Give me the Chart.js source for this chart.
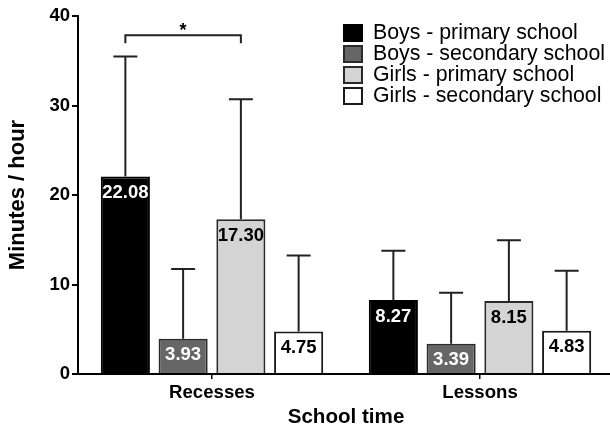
<!DOCTYPE html>
<html><head><meta charset="utf-8">
<script src="https://cdn.jsdelivr.net/npm/chart.js@4.4.0/dist/chart.umd.min.js"></script>
<style>
html,body{margin:0;padding:0;background:#fff;overflow:hidden;}
#wrap{position:relative;width:614px;height:429px;}
#legend{position:absolute;left:343px;top:22px;font-family:'Liberation Sans',Arial,sans-serif;font-size:21.3px;color:#000;}
.row{display:flex;align-items:center;height:21.1px;line-height:21px;white-space:nowrap;}
.box{width:20px;height:18px;box-sizing:border-box;border:2px solid #222;margin-right:10px;flex:none;}
</style></head><body>
<div id="wrap"><canvas id="c" width="614" height="429"></canvas><div id="legend"></div></div>
<script>
const categories = ['Recesses', 'Lessons'];
const seriesLabels = ['Boys - primary school', 'Boys - secondary school', 'Girls - primary school', 'Girls - secondary school'];
const boysPrimary = [22.08, 8.27];
const boysSecondary = [3.93, 3.39];
const girlsPrimary = [17.30, 8.15];
const girlsSecondary = [4.75, 4.83];
const boysPrimarySD = [13.4, 5.5];
const boysSecondarySD = [7.8, 5.7];
const girlsPrimarySD = [13.4, 6.8];
const girlsSecondarySD = [8.5, 6.7];
const yTicks = [0, 10, 20, 30, 40];
const significance = { category: 0, fromSeries: 0, toSeries: 2, value: 37.85, label: '*' };

const seriesValues = [boysPrimary, boysSecondary, girlsPrimary, girlsSecondary];
const seriesErrors = [boysPrimarySD, boysSecondarySD, girlsPrimarySD, girlsSecondarySD];
const fills = ['#000000', '#666666', '#d4d4d4', '#ffffff'];
const borders = ['#000000', '#2a2a2a', '#2a2a2a', '#1a1a1a'];
const labelColors = ['#ffffff', '#ffffff', '#000000', '#000000'];
const FONT = "'Liberation Sans', Arial, sans-serif";

const overlay = {
  id: 'overlay',
  afterDatasetsDraw(chart) {
    const ctx = chart.ctx;
    const ys = chart.scales.y;
    ctx.save();
    chart.data.datasets.forEach((ds, di) => {
      const meta = chart.getDatasetMeta(di);
      meta.data.forEach((bar, i) => {
        const top = bar.y;
        const errTop = ys.getPixelForValue(ds.data[i] + seriesErrors[di][i]);
        ctx.strokeStyle = '#222';
        ctx.lineWidth = 2;
        ctx.beginPath();
        ctx.moveTo(bar.x, top);
        ctx.lineTo(bar.x, errTop);
        ctx.moveTo(bar.x - 12, errTop);
        ctx.lineTo(bar.x + 12, errTop);
        ctx.stroke();
        ctx.fillStyle = labelColors[di];
        ctx.font = 'bold 18.5px ' + FONT;
        ctx.textAlign = 'center';
        ctx.textBaseline = 'middle';
        ctx.fillText(ds.data[i].toFixed(2), bar.x, top + 16.5);
      });
    });
    // significance bracket
    const b1 = chart.getDatasetMeta(significance.fromSeries).data[significance.category];
    const b2 = chart.getDatasetMeta(significance.toSeries).data[significance.category];
    const yTop = ys.getPixelForValue(significance.value);
    ctx.strokeStyle = '#222';
    ctx.lineWidth = 2;
    ctx.beginPath();
    ctx.moveTo(b1.x, yTop + 8);
    ctx.lineTo(b1.x, yTop);
    ctx.lineTo(b2.x, yTop);
    ctx.lineTo(b2.x, yTop + 8);
    ctx.stroke();
    ctx.fillStyle = '#000';
    ctx.font = 'bold 18px ' + FONT;
    ctx.textAlign = 'center';
    ctx.textBaseline = 'alphabetic';
    ctx.fillText(significance.label, (b1.x + b2.x) / 2, yTop + 1);
    ctx.restore();
  }
};

const chart = new Chart(document.getElementById('c'), {
  type: 'bar',
  data: {
    labels: categories,
    datasets: seriesLabels.map((lab, i) => ({
      label: lab,
      data: seriesValues[i],
      backgroundColor: fills[i],
      borderColor: borders[i],
      borderWidth: 2,
      barPercentage: 0.85,
      categoryPercentage: 0.862
    }))
  },
  options: {
    responsive: false,
    animation: false,
    devicePixelRatio: 1,
    layout: { padding: { top: 16, left: 0, right: 0, bottom: 0 } },
    plugins: { legend: { display: false }, tooltip: { enabled: false } },
    scales: {
      x: {
        ticks: { font: { family: FONT, size: 18.6, weight: 'bold' }, color: '#000', padding: 3 },
        grid: { offset: false, drawOnChartArea: false, drawTicks: true, tickLength: 5, color: '#000', lineWidth: 1.5 },
        border: { display: true, color: '#000', width: 2 },
        title: { display: true, text: 'School time', color: '#000', font: { family: FONT, size: 20.6, weight: 'bold', lineHeight: 1 }, padding: { top: 0, bottom: 1 } },
        afterFit: s => { s.height = 55; }
      },
      y: {
        min: 0, max: 40,
        afterBuildTicks: s => { s.ticks = yTicks.map(v => ({ value: v })); },
        ticks: { font: { family: FONT, size: 18.5, weight: 'bold' }, color: '#000', padding: 2 },
        grid: { drawOnChartArea: false, drawTicks: true, tickLength: 6, color: '#000', lineWidth: 2 },
        border: { display: true, color: '#000', width: 2 },
        title: { display: true, text: 'Minutes / hour', color: '#000', font: { family: FONT, size: 22, weight: 'bold', lineHeight: 1 }, padding: { top: 7.3, bottom: 0 } },
        afterFit: s => { s.width = 78; }
      }
    }
  },
  plugins: [overlay]
});

const legend = document.getElementById('legend');
chart.data.datasets.forEach(ds => {
  const row = document.createElement('div');
  row.className = 'row';
  const box = document.createElement('span');
  box.className = 'box';
  box.style.background = ds.backgroundColor;
  box.style.borderColor = ds.borderColor;
  const txt = document.createElement('span');
  txt.textContent = ds.label;
  row.appendChild(box);
  row.appendChild(txt);
  legend.appendChild(row);
});
</script>
</body></html>
